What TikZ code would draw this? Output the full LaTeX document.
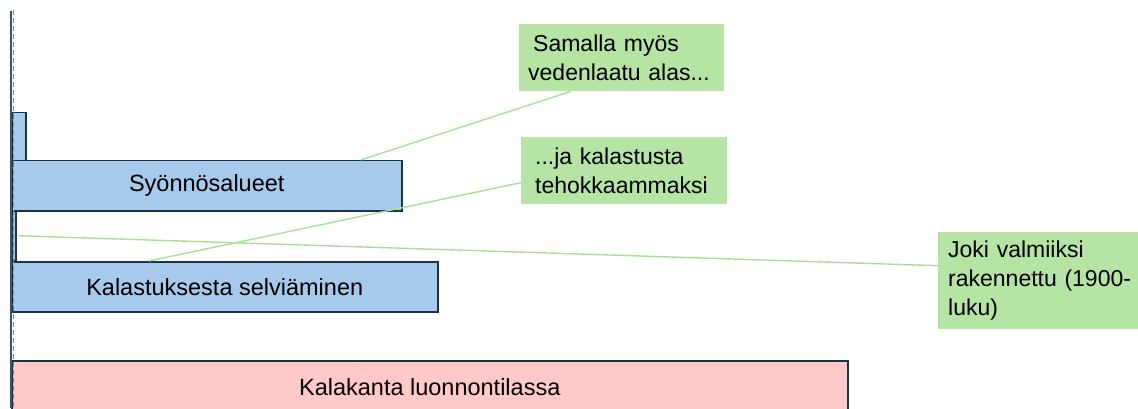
\documentclass[tikz,border=0pt]{standalone}
\usepackage{fontspec}
\setmainfont{Liberation Sans}
\usetikzlibrary{positioning}

\definecolor{barblue}{RGB}{167,201,235}
\definecolor{barred}{RGB}{255,201,201}
\definecolor{boxgreen}{RGB}{181,228,165}
\definecolor{linegreen}{RGB}{168,221,152}
\definecolor{edgedark}{RGB}{28,50,70}
\definecolor{axisblue}{RGB}{96,140,168}

\begin{document}
\begin{tikzpicture}[x = 1pt, y = -1pt]
\tikzstyle{BarStyle}=[shape = rectangle,
                      anchor = north west,
                      inner sep = 0pt,
                      fill = barblue,
                      draw = edgedark,
                      line width = 1.5pt,
                      font = \fontsize{23.5}{28}\selectfont]
\tikzstyle{NoteStyle}=[shape = rectangle,
                       anchor = north west,
                       inner xsep = 9pt,
                       inner ysep = 0pt,
                       fill = boxgreen,
                       align = left,
                       font = \fontsize{23}{29}\selectfont]
\tikzstyle{LinkStyle}=[draw = linegreen, line width = 1.4pt]
\useasboundingbox (0,0) rectangle (1138,409);
% bars
\node[BarStyle, minimum width = 14pt, minimum height = 48pt] at (11,112) (top) {};
\node[BarStyle, minimum width = 390pt, minimum height = 50pt] at (11,160) (syonnos) {Syönnösalueet};
\node[BarStyle, minimum width = 4pt, minimum height = 50pt] at (11,210) (thin) {};
\node[BarStyle, minimum width = 426pt, minimum height = 50pt] at (11,261) (kalastus) {Kalastuksesta selviäminen};
\node[BarStyle, fill = barred, minimum width = 836pt, minimum height = 56pt] at (11,360) (luonto) {\raisebox{3pt}{Kalakanta luonnontilassa}};
% notes
\node[NoteStyle, text width = 187pt, minimum height = 67pt] at (519,24) (samalla) {\mbox{\hspace{5pt}Samalla myös}\\\mbox{vedenlaatu alas...}};
\node[NoteStyle, inner xsep = 14pt, text width = 178pt, minimum height = 67pt] at (521,137) (jakal) {\mbox{...ja kalastusta}\\\mbox{tehokkaammaksi}};
\node[NoteStyle, inner xsep = 10pt, text width = 180pt, minimum height = 97pt] at (938,232) (joki) {\mbox{Joki valmiiksi}\\\mbox{rakennettu (1900-}\\\mbox{luku)}};
% links
\draw[LinkStyle] ([xshift = -51pt]samalla.south) -- ([xshift = 154pt]syonnos.north);
\draw[LinkStyle] ([yshift = -12pt]jakal.west) -- ([xshift = -76pt]kalastus.north);
\draw[LinkStyle] ([xshift = 2pt]thin.east) -- ([yshift = 15pt]joki.west);
% axis
\node[inner sep = 0pt] at (11,10) (axtop) {};
\node[inner sep = 0pt] at (11,409) (axbot) {};
\draw[edgedark!85, line width = 1.5pt] (axtop) -- (axbot);
\draw[axisblue, line width = 1.5pt, dashed, dash pattern = on 5pt off 3pt] ([xshift = 2.5pt]axtop.center) -- ([xshift = 2.5pt]axbot.center);
\end{tikzpicture}
\end{document}
